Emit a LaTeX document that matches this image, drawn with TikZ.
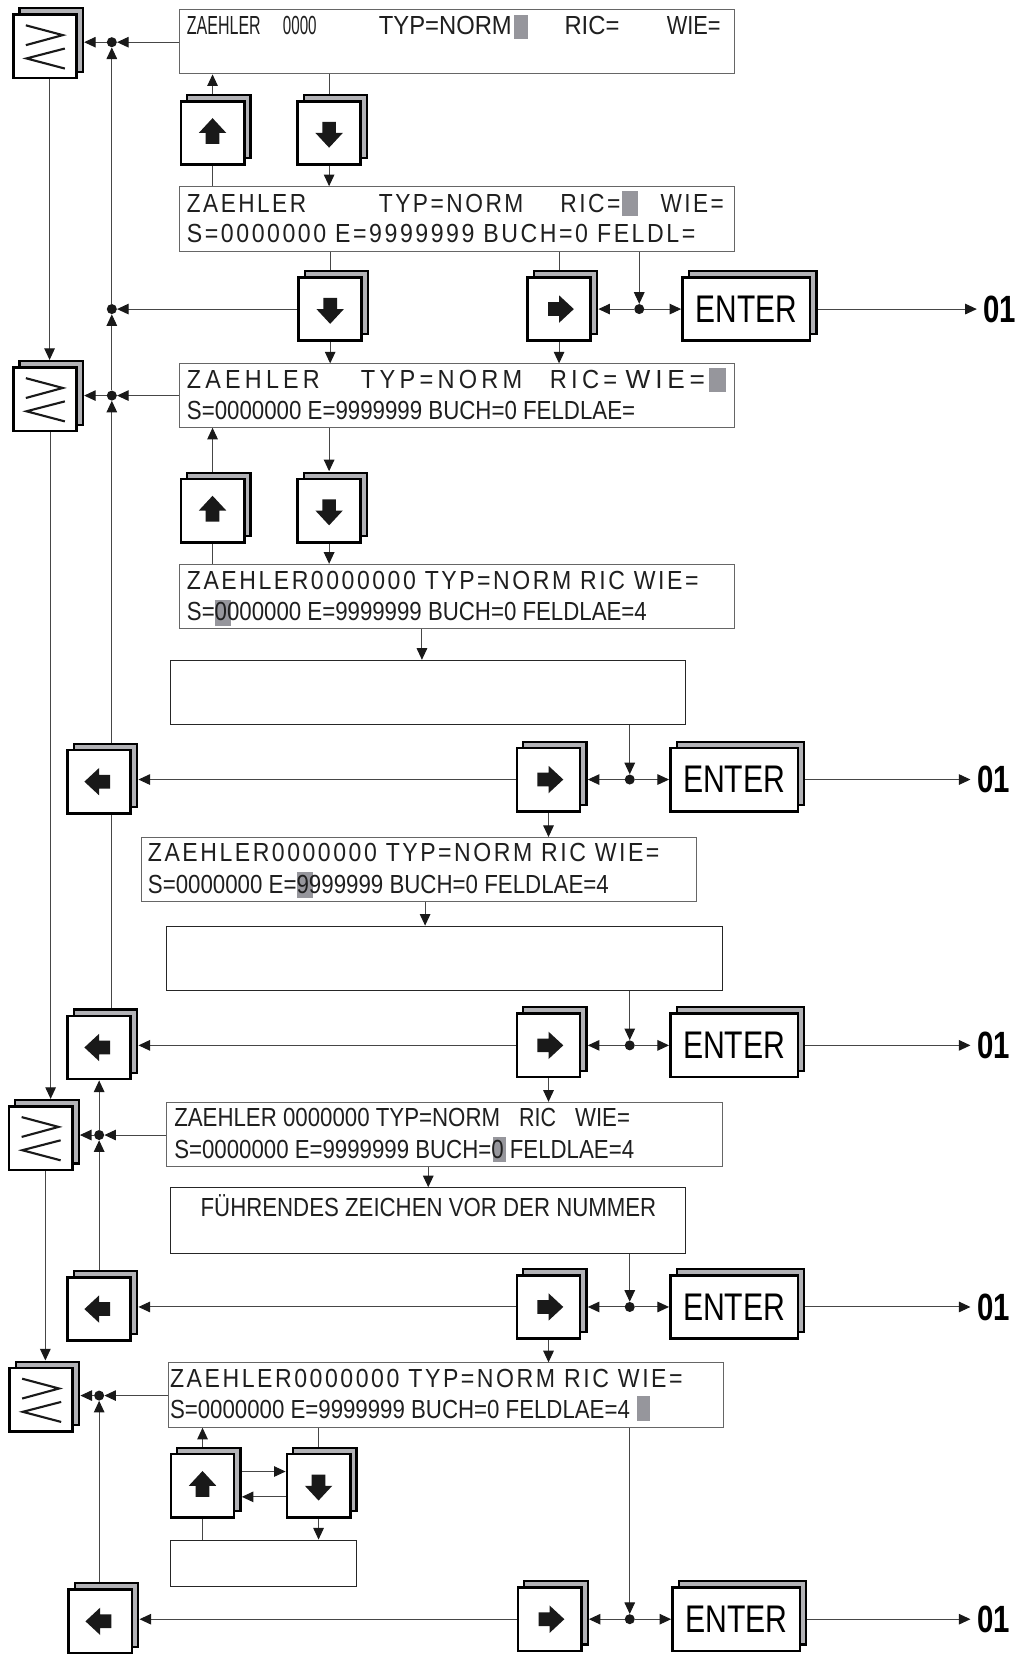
\documentclass[tikz,border=0pt]{standalone}
\usepackage{graphicx}
\usepackage{fontspec}
\setmainfont{Liberation Sans}
\newfontfamily\lcdweit{Liberation Sans}[LetterSpace=11]
\newfontfamily\lcdsehrweit{Liberation Sans}[LetterSpace=18]
\usepackage{tikz}
\usetikzlibrary{arrows.meta, calc, backgrounds, shadows}
\definecolor{schatten}{RGB}{178,178,182}
\definecolor{cursorgrau}{RGB}{150,150,156}
\definecolor{linie}{RGB}{70,70,70}

\newcommand{\seg}[2]{\resizebox{#1pt}{\height}{#2}}
\newcommand{\pfeil}[2]{\fill[black!90, shift={(#1.center)}, rotate=#2] (0,-14) -- (13,0) -- (6.5,0) -- (6.5,10.5) -- (-6.5,10.5) -- (-6.5,0) -- (-13,0) -- cycle;}
\newcommand{\groesser}[1]{\draw[line width=2pt, black!90, shift={(#1.center)}] (-18,-20) -- (17,-10.7) -- (-18,-1.2) (19,2) -- (-17.4,11.4) -- (19,21);}

\tikzset{
  taste/.style={draw=black, line width=2.5pt, fill=white, inner sep=0pt,
    minimum width=60pt, minimum height=60pt,
    copy shadow={shadow xshift=6pt, shadow yshift=6pt, fill=schatten, draw=black, line width=2pt}},
  enter/.style={taste, minimum width=121pt, font=\fontsize{36.5}{40}\selectfont},
  anzeige/.style={draw=black!60, line width=1pt, fill=white, minimum width=526pt, minimum height=61pt},
  leer/.style={draw=black!85, line width=1pt, fill=white},
  punkt/.style={circle, fill=black!90, inner sep=0pt, minimum size=9.5pt},
  verb/.style={line width=1pt, draw=linie},
  pf/.style={-{Triangle[length=11pt, width=10pt, black!90]}},
  txt/.style={anchor=base west, inner sep=0pt, text=black!88, font=\fontsize{24.8}{29}\selectfont},
  marke/.style={anchor=west, inner sep=0pt, inner xsep=6pt, font=\fontsize{36}{40}\selectfont\bfseries}
}

\begin{document}
\begin{tikzpicture}[x=1pt, y=-1pt]
    \useasboundingbox (0,0) rectangle (966,1568);

    % Anzeigen und leere Felder
    \node[anzeige] (a1) at (433,39.5) {};
    \node[anzeige] (a2) at (433,207.5) {};
    \node[anzeige, minimum height=60pt] (a3) at (433,375) {};
    \node[anzeige] (a4) at (433,565.5) {};
    \node[leer, minimum width=488pt, minimum height=61pt] (b1) at (406,656.5) {};
    \node[anzeige] (a5) at (397,824.5) {};
    \node[leer, minimum width=527pt, minimum height=61pt] (b2) at (421.5,908.5) {};
    \node[anzeige, minimum width=527pt] (a6) at (421.5,1075.5) {};
    \node[leer, minimum width=488pt, minimum height=62pt] (b3) at (406,1157) {};
    \node[anzeige] (a7) at (423,1322.5) {};
    \node[leer, minimum width=176pt, minimum height=44pt] (b4) at (250,1482) {};

    % Tasten
    \node[taste] (g1) at (42.5,44) {};
    \node[taste] (ho1) at (201.5,126) {};
    \node[taste] (ru1) at (312,126) {};
    \node[taste] (ru2) at (313,293) {};
    \node[taste] (re1) at (530,293) {};
    \node[enter] (en1) at (707.5,293) {\seg{96}{ENTER}};
    \node[taste] (g2) at (42.5,378.5) {};
    \node[taste] (ho2) at (201.5,484) {};
    \node[taste] (ru3) at (312,484) {};
    \node[taste] (li1) at (94,741) {};
    \node[taste] (re2) at (520,739) {};
    \node[enter] (en2) at (696,739) {\seg{97}{ENTER}};
    \node[taste] (li2) at (94,993) {};
    \node[taste] (re3) at (520,991) {};
    \node[enter] (en3) at (696,991) {\seg{97}{ENTER}};
    \node[taste] (g3) at (38.5,1079) {};
    \node[taste] (li3) at (94,1241) {};
    \node[taste] (re4) at (520,1239) {};
    \node[enter] (en4) at (696,1239) {\seg{97}{ENTER}};
    \node[taste] (g4) at (39,1327) {};
    \node[taste] (ho3) at (192,1408.5) {};
    \node[taste] (ru4) at (302,1408.5) {};
    \node[taste] (li4) at (95,1537) {};
    \node[taste] (re5) at (521,1535) {};
    \node[enter] (en5) at (698,1535) {\seg{97}{ENTER}};

    \groesser{g1} \groesser{g2} \groesser{g3} \groesser{g4}
    \pfeil{ho1}{0} \pfeil{ho2}{0} \pfeil{ho3}{0}
    \pfeil{ru1}{180} \pfeil{ru2}{180} \pfeil{ru3}{180} \pfeil{ru4}{180}
    \pfeil{re1}{-90} \pfeil{re2}{-90} \pfeil{re3}{-90} \pfeil{re4}{-90} \pfeil{re5}{-90}
    \pfeil{li1}{90} \pfeil{li2}{90} \pfeil{li3}{90} \pfeil{li4}{90}

    % Knoten
    \node[punkt] (p1) at (106,40) {};
    \node[punkt] (p2) at (106,293) {};
    \node[punkt] (p3) at (106,375) {};
    \node[punkt] (p4) at (94,1076) {};
    \node[punkt] (p5) at (94,1323) {};
    \node[punkt] (q1) at (606,293) {};
    \node[punkt] (q2) at (597,739) {};
    \node[punkt] (q3) at (597,991) {};
    \node[punkt] (q4) at (597,1239) {};
    \node[punkt] (q5) at (597,1535) {};

    \node[marke] (z1) at (926,293) {\seg{31}{01}};
    \node[marke] (z2) at (920,739) {\seg{31}{01}};
    \node[marke] (z3) at (920,991) {\seg{31}{01}};
    \node[marke] (z4) at (920,1239) {\seg{31}{01}};
    \node[marke] (z5) at (920,1535) {\seg{31}{01}};

    % Cursor
    \fill[cursorgrau] (487,14) rectangle (501,37);
    \fill[cursorgrau] (590,181) rectangle (605,205);
    \fill[cursorgrau] (672,349) rectangle (688,372);
    \fill[cursorgrau] (204,569) rectangle (219,593);
    \fill[cursorgrau] (282,827) rectangle (297,851);
    \fill[cursorgrau] (467,1078) rectangle (480,1102);
    \fill[cursorgrau] (604,1323) rectangle (616,1347);

    % Texte
    \node[txt] (t1a) at (177,33) {\seg{70}{ZAEHLER}};
    \node[txt] (t1b) at (268,33) {\seg{32}{0000}};
    \node[txt] (t1c) at (359,33) {\seg{126}{TYP=NORM}};
    \node[txt] (t1d) at (535,33) {\seg{52}{RIC=}};
    \node[txt] (t1e) at (632,33) {\seg{51}{WIE=}};

    \node[txt] (t2a) at (177,201) {\seg{113}{\lcdweit ZAEHLER}};
    \node[txt] (t2b) at (359,201) {\seg{137}{\lcdweit TYP=NORM}};
    \node[txt] (t2c) at (531,201) {\seg{57}{\lcdweit RIC=}};
    \node[txt] (t2d) at (626,201) {\seg{60}{\lcdweit WIE=}};
    \node[txt] (t2e) at (177,230) {\seg{482}{\lcdweit S=0000000 E=9999999 BUCH=0 FELDL=}};

    \node[txt] (t3a) at (177,368) {\seg{126}{\lcdsehrweit ZAEHLER}};
    \node[txt] (t3b) at (342,368) {\seg{153}{\lcdsehrweit TYP=NORM}};
    \node[txt] (t3c) at (521,368) {\seg{64}{\lcdsehrweit RIC=}};
    \node[txt] (t3d) at (593,368) {\seg{75}{\lcdsehrweit WIE=}};
    \node[txt] (t3e) at (177,398) {\seg{425}{S=0000000 E=9999999 BUCH=0 FELDLAE=}};

    \node[txt] (t4a) at (177,559) {\seg{485}{\lcdweit ZAEHLER0000000 TYP=NORM RIC WIE=}};
    \node[txt] (t4b) at (177,588) {\seg{436}{S=0000000 E=9999999 BUCH=0 FELDLAE=4}};

    \node[txt] (t5a) at (140,817) {\seg{485}{\lcdweit ZAEHLER0000000 TYP=NORM RIC WIE=}};
    \node[txt] (t5b) at (140,847) {\seg{437}{S=0000000 E=9999999 BUCH=0 FELDLAE=4}};

    \node[txt] (t6a) at (165,1068) {\seg{309}{ZAEHLER 0000000 TYP=NORM}};
    \node[txt] (t6b) at (492,1068) {\seg{35}{RIC}};
    \node[txt] (t6c) at (545,1068) {\seg{52}{WIE=}};
    \node[txt] (t6d) at (165,1098) {\seg{436}{S=0000000 E=9999999 BUCH=0 FELDLAE=4}};
    \node[txt] (t6e) at (190,1153) {\seg{432}{FÜHRENDES ZEICHEN VOR DER NUMMER}};

    \node[txt] (t7a) at (161,1315) {\seg{486}{\lcdweit ZAEHLER0000000 TYP=NORM RIC WIE=}};
    \node[txt] (t7b) at (161,1345) {\seg{436}{S=0000000 E=9999999 BUCH=0 FELDLAE=4}};

    % Verbindungen
    \begin{scope}[on background layer]
    \draw[verb, pf] (a1.west |- p1) -- (p1);
    \draw[verb, pf] (p1) -- ([xshift=6pt]p1 -| g1.east);
    \draw[verb, pf] (p2) -- (p1);
    \draw[verb, pf] (ru2) -- (p2);
    \draw[verb, pf] (p3) -- (p2);
    \draw[verb, pf] (a3.west |- p3) -- (p3);
    \draw[verb, pf] (p3) -- ([xshift=6pt]p3 -| g2.east);
    \draw[verb, pf] (p3 |- li1) -- (p3);
    \draw[verb] (p3 |- li1) -- (p3 |- li2);
    \draw[verb, pf] (p4) -- (p4 |- li2.south);
    \draw[verb, pf] (a6.west |- p4) -- (p4);
    \draw[verb, pf] (p4) -- ([xshift=6pt]p4 -| g3.east);
    \draw[verb, pf] (p4 |- li3) -- (p4);
    \draw[verb, pf] (a7.west |- p5) -- (p5);
    \draw[verb, pf] (p5) -- ([xshift=6pt]p5 -| g4.east);
    \draw[verb, pf] (p5 |- li4) -- (p5);

    \draw[verb, pf] ([xshift=4.5pt]g1.south) -- ([xshift=4.5pt, yshift=6pt]g2.north);
    \draw[verb, pf] ([xshift=5.5pt]g2.south) -- ([xshift=9.5pt, yshift=6pt]g3.north);
    \draw[verb, pf] ([xshift=4.5pt]g3.south) -- ([xshift=4pt, yshift=6pt]g4.north);

    \draw[verb, pf] (ho1) -- (ho1 |- a1.south);
    \draw[verb] (ho1) -- (ho1 |- a2.north);
    \draw[verb] (ru1 |- a1.south) -- (ru1);
    \draw[verb, pf] (ru1) -- (ru1 |- a2.north);
    \draw[verb] (ru2 |- a2.south) -- (ru2);
    \draw[verb, pf] (ru2) -- (ru2 |- a3.north);
    \draw[verb] (re1 |- a2.south) -- (re1);
    \draw[verb, pf] (re1) -- (re1 |- a3.north);
    \draw[verb, pf] (q1 |- a2.south) -- (q1);
    \draw[verb, pf] (q1) -- ([xshift=6pt]q1 -| re1.east);
    \draw[verb, pf] (q1) -- (q1 -| en1.west);
    \draw[verb, pf] (en1) -- (z1);

    \draw[verb, pf] (ho2) -- (ho2 |- a3.south);
    \draw[verb] (ho2) -- (ho2 |- a4.north);
    \draw[verb, pf] (ru3 |- a3.south) -- ([yshift=6pt]ru3.north);
    \draw[verb, pf] (ru3) -- (ru3 |- a4.north);
    \draw[verb, pf] ([xshift=-6pt]b1.north |- a4.south) -- ([xshift=-6pt]b1.north);

    \draw[verb, pf] (q2 |- b1.south) -- (q2);
    \draw[verb, pf] (q2) -- ([xshift=6pt]q2 -| re2.east);
    \draw[verb, pf] (q2) -- (q2 -| en2.west);
    \draw[verb, pf] (en2) -- (z2);
    \draw[verb, pf] (re2) -- ([xshift=6pt]re2 -| li1.east);
    \draw[verb, pf] (re2) -- (re2 |- a5.north);
    \draw[verb, pf] ([xshift=6pt]a5.south) -- ([xshift=6pt]a5.south |- b2.north);

    \draw[verb, pf] (q3 |- b2.south) -- (q3);
    \draw[verb, pf] (q3) -- ([xshift=6pt]q3 -| re3.east);
    \draw[verb, pf] (q3) -- (q3 -| en3.west);
    \draw[verb, pf] (en3) -- (z3);
    \draw[verb, pf] (re3) -- ([xshift=6pt]re3 -| li2.east);
    \draw[verb, pf] (re3) -- (re3 |- a6.north);
    \draw[verb, pf] (b3.north |- a6.south) -- (b3.north);

    \draw[verb, pf] (q4 |- b3.south) -- (q4);
    \draw[verb, pf] (q4) -- ([xshift=6pt]q4 -| re4.east);
    \draw[verb, pf] (q4) -- (q4 -| en4.west);
    \draw[verb, pf] (en4) -- (z4);
    \draw[verb, pf] (re4) -- ([xshift=6pt]re4 -| li3.east);
    \draw[verb, pf] (re4) -- (re4 |- a7.north);

    \draw[verb, pf] (ho3) -- (ho3 |- a7.south);
    \draw[verb] (ho3) -- (ho3 |- b4.north);
    \draw[verb] (ru4 |- a7.south) -- (ru4);
    \draw[verb, pf] (ru4) -- (ru4 |- b4.north);
    \draw[verb, pf] ([yshift=13.5pt]ho3.center) -- ([yshift=13.5pt]ho3.center -| ru4.west);
    \draw[verb, pf] ([yshift=-10.5pt]ru4.center) -- ([xshift=6pt, yshift=-10.5pt]ru4.center -| ho3.east);

    \draw[verb, pf] (q5 |- a7.south) -- (q5);
    \draw[verb, pf] (q5) -- ([xshift=6pt]q5 -| re5.east);
    \draw[verb, pf] (q5) -- (q5 -| en5.west);
    \draw[verb, pf] (en5) -- (z5);
    \draw[verb, pf] (re5) -- ([xshift=6pt]re5 -| li4.east);
    \end{scope}
\end{tikzpicture}
\end{document}
